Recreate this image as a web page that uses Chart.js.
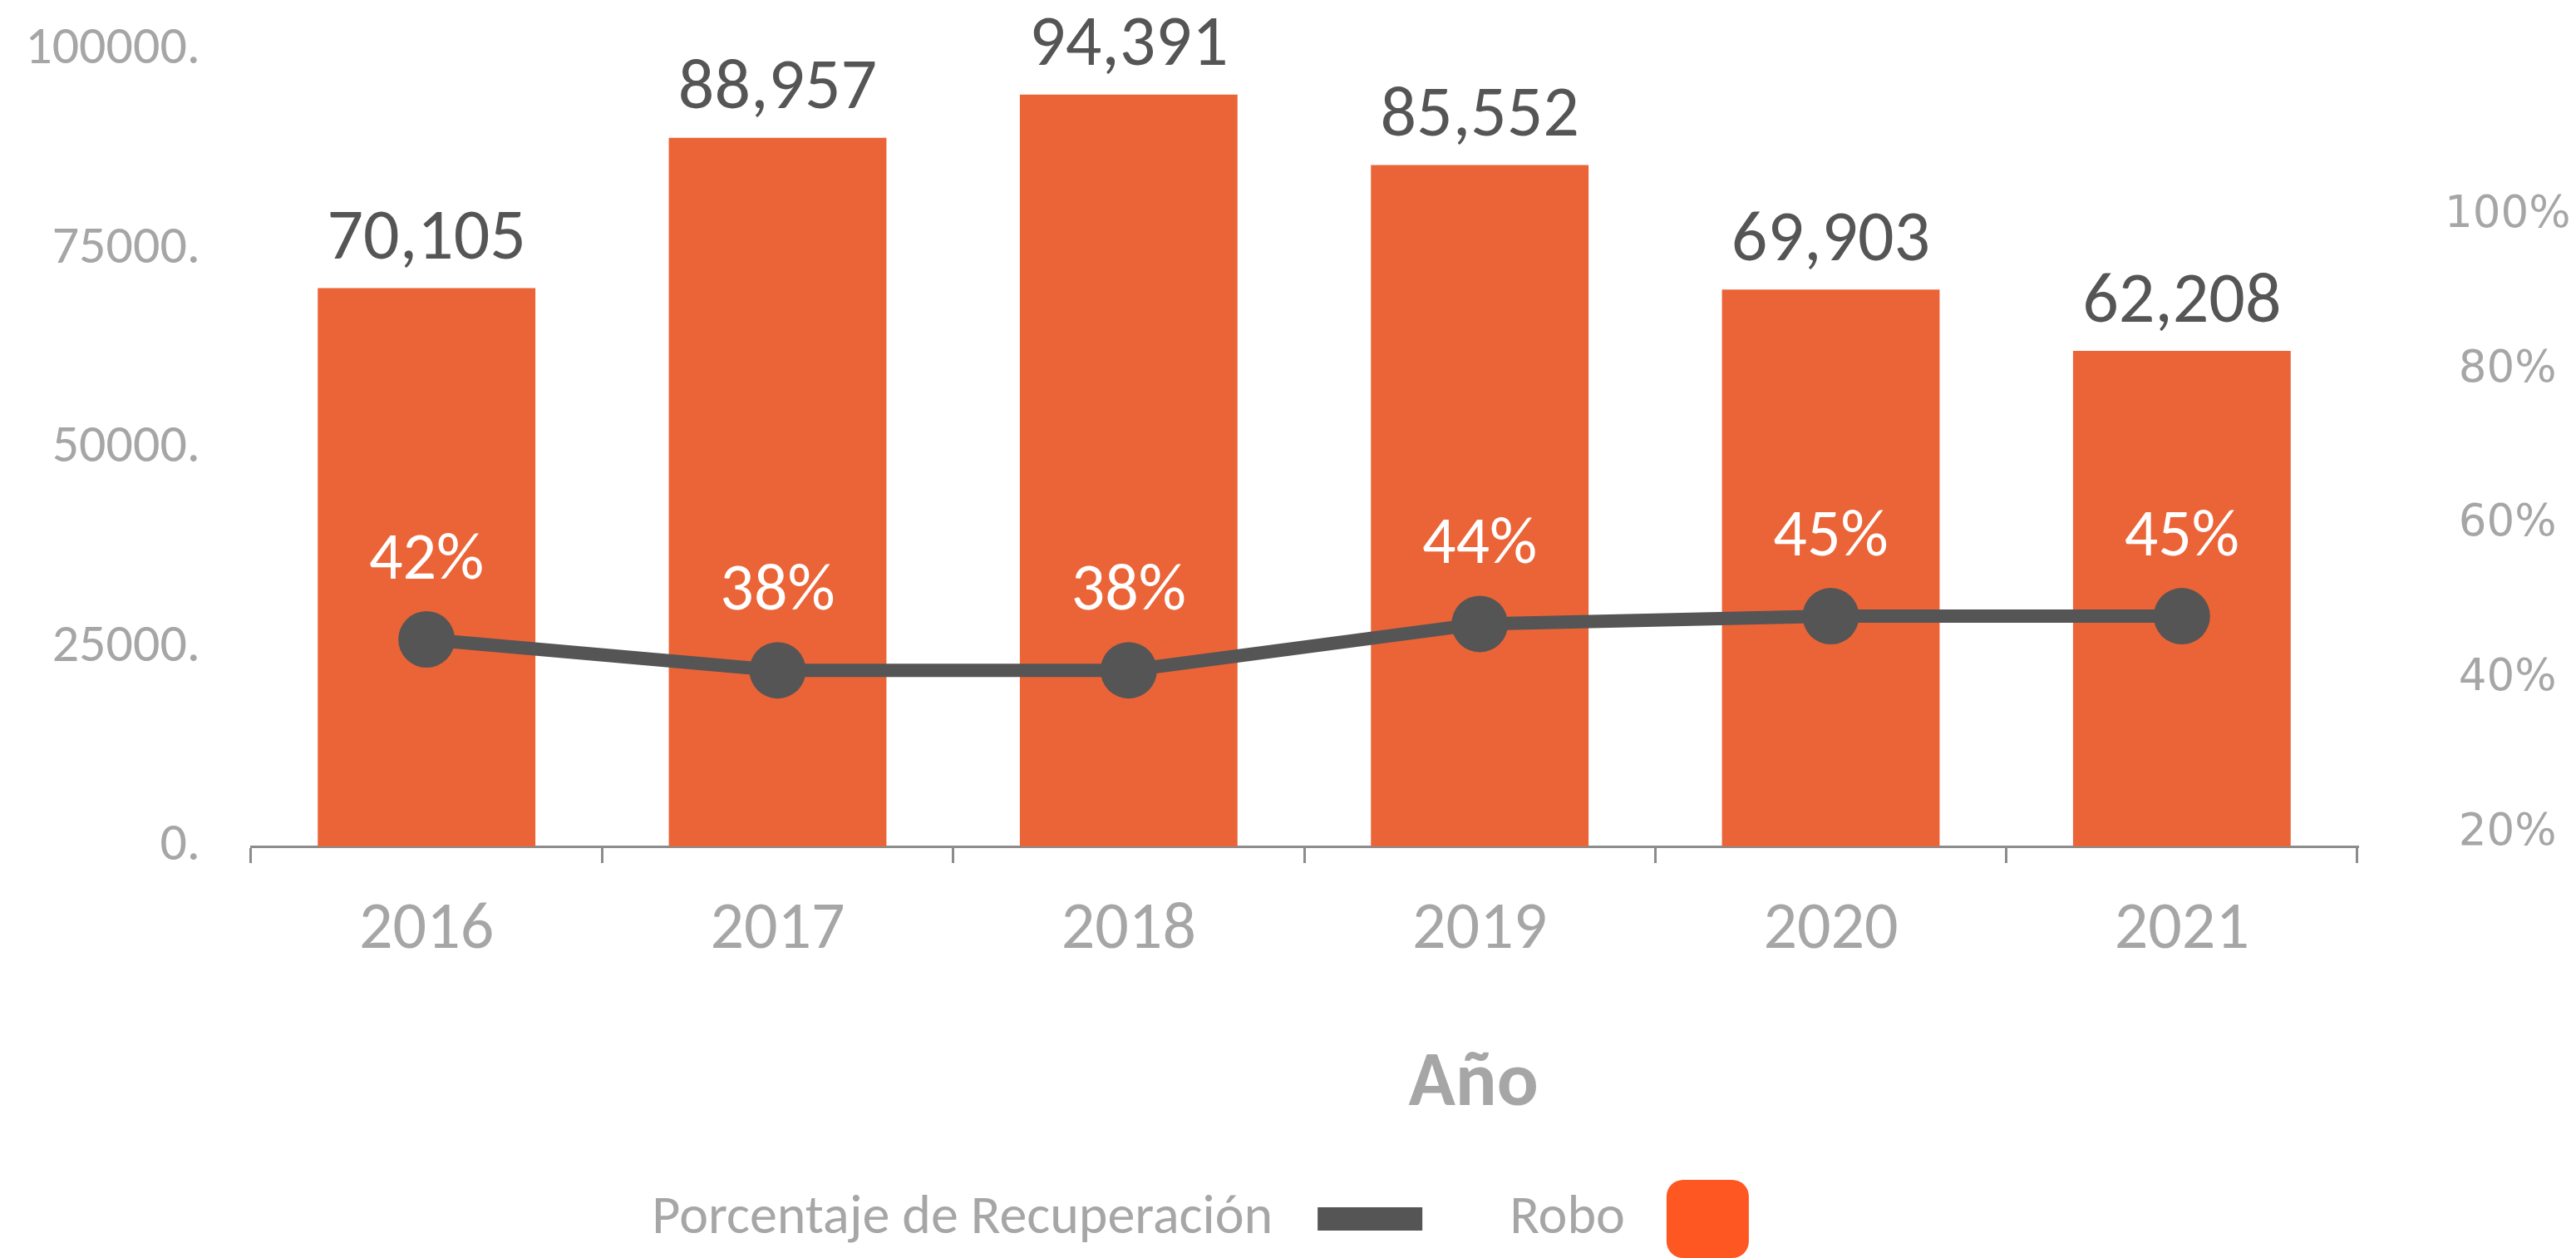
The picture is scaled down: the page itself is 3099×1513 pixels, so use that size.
<!DOCTYPE html>
<html>
<head>
<meta charset="utf-8">
<script src="https://cdn.jsdelivr.net/npm/chart.js@4.4.0/dist/chart.umd.min.js"></script>
<style>
html, body { margin: 0; padding: 0; background: #fff; }
</style>
</head>
<body>
<canvas id="myChart" width="3099" height="1513"></canvas>
<script>
// Datos
var years = ['2016', '2017', '2018', '2019', '2020', '2021'];
var robo = [70105, 88957, 94391, 85552, 69903, 62208];
var recuperacion = [42, 38, 38, 44, 45, 45];
var leftTicks = [0, 25000, 50000, 75000, 100000];
var rightTicks = [20, 40, 60, 80, 100];

var FONT = 'Carlito, Lato, sans-serif';
var GRAY = '#a6a6a6';
var DARK = '#555555';
var BAR = '#eb6437';
var LEGEND_ORANGE = '#ff5722';

Chart.defaults.font.family = FONT;
Chart.defaults.color = GRAY;

// value labels over bars and points
var labelsPlugin = {
    id: 'valueLabels',
    afterDatasetsDraw: function(chart) {
        var ctx = chart.ctx;
        ctx.save();
        ctx.textAlign = 'center';
        ctx.textBaseline = 'middle';

        var bars = chart.getDatasetMeta(1).data;
        ctx.fillStyle = DARK;
        ctx.font = '86px ' + FONT;
        bars.forEach(function(bar, i) {
            ctx.fillText(robo[i].toLocaleString('en-US'), bar.x, bar.y - 57);
        });

        var pts = chart.getDatasetMeta(0).data;
        ctx.fillStyle = '#ffffff';
        ctx.font = '80px ' + FONT;
        pts.forEach(function(p, i) {
            ctx.fillText(recuperacion[i] + '%', p.x, p.y - 93);
        });
        ctx.restore();
    }
};

// axis title + legend (text first, swatch after)
var legendPlugin = {
    id: 'customLegend',
    afterDraw: function(chart) {
        var ctx = chart.ctx;
        ctx.save();
        ctx.textBaseline = 'middle';
        ctx.textAlign = 'center';
        ctx.fillStyle = GRAY;
        ctx.font = 'bold 93px ' + FONT;
        ctx.fillText('Año', chart.width * 0.572, 1306);

        ctx.font = '66px ' + FONT;
        ctx.textAlign = 'left';
        var t1 = 'Porcentaje de Recuperación', t2 = 'Robo';
        var w1 = ctx.measureText(t1).width, w2 = ctx.measureText(t2).width;
        var total = w1 + 54 + 126 + 105 + w2 + 50 + 99;
        var x = chart.width * 0.466 - total / 2;
        var y = 1466;
        ctx.fillText(t1, x, y);
        x += w1 + 54;
        ctx.fillStyle = DARK;
        ctx.fillRect(x, y - 14, 126, 28);
        x += 126 + 105;
        ctx.fillStyle = GRAY;
        ctx.fillText(t2, x, y);
        x += w2 + 50;
        ctx.fillStyle = LEGEND_ORANGE;
        ctx.beginPath();
        ctx.roundRect(x, y - 47, 99, 94, 20);
        ctx.fill();
        ctx.restore();
    }
};

// fixed axis widths, no extra label padding above/below
function fixWidth(w) {
    return function(scale) {
        scale.width = w;
        scale.paddingTop = 0;
        scale.paddingBottom = 0;
    };
}

var ctx = document.getElementById('myChart').getContext('2d');
var chart = new Chart(ctx, {
    type: 'bar',
    data: {
        labels: years,
        datasets: [{
            type: 'line',
            label: 'Porcentaje de Recuperación',
            data: recuperacion,
            yAxisID: 'y1',
            borderColor: DARK,
            backgroundColor: DARK,
            borderWidth: 16,
            pointRadius: 34,
            pointBackgroundColor: DARK,
            pointBorderWidth: 0,
            tension: 0,
            order: 0
        }, {
            type: 'bar',
            label: 'Robo',
            data: robo,
            yAxisID: 'y',
            backgroundColor: BAR,
            categoryPercentage: 1,
            barPercentage: 0.62,
            order: 1
        }]
    },
    options: {
        responsive: false,
        animation: false,
        layout: {
            autoPadding: false,
            padding: { top: 60, left: 0, right: 0, bottom: 0 }
        },
        plugins: {
            legend: { display: false },
            tooltip: { enabled: false }
        },
        scales: {
            x: {
                afterFit: function(scale) { scale.height = 495; },
                grid: {
                    offset: true,
                    drawOnChartArea: false,
                    drawTicks: true,
                    tickLength: 20,
                    color: '#8c8c8c',
                    lineWidth: 3
                },
                border: { display: true, color: '#8c8c8c', width: 3 },
                ticks: {
                    color: GRAY,
                    font: { size: 80, lineHeight: 1.2 },
                    padding: 34
                }
            },
            y: {
                position: 'left',
                min: 0,
                max: 100000,
                afterFit: fixWidth(302),
                afterBuildTicks: function(axis) {
                    axis.ticks = leftTicks.map(function(v) { return { value: v }; });
                },
                grid: { display: false, drawTicks: false },
                border: { display: false },
                ticks: {
                    color: GRAY,
                    font: { size: 64 },
                    padding: 61,
                    callback: function(v) { return v + '.'; }
                }
            },
            y1: {
                position: 'right',
                min: 15.2,
                max: 118.3,
                afterFit: fixWidth(263),
                afterBuildTicks: function(axis) {
                    axis.ticks = rightTicks.map(function(v) { return { value: v }; });
                },
                grid: { display: false, drawTicks: false },
                border: { display: false },
                ticks: {
                    color: GRAY,
                    crossAlign: 'center',
                    labelOffset: 29,
                    font: { size: 53, family: '"DejaVu Sans", sans-serif' },
                    padding: 105,
                    callback: function(v) { return v + '%'; }
                }
            }
        }
    },
    plugins: [labelsPlugin, legendPlugin]
});
</script>
</body>
</html>
